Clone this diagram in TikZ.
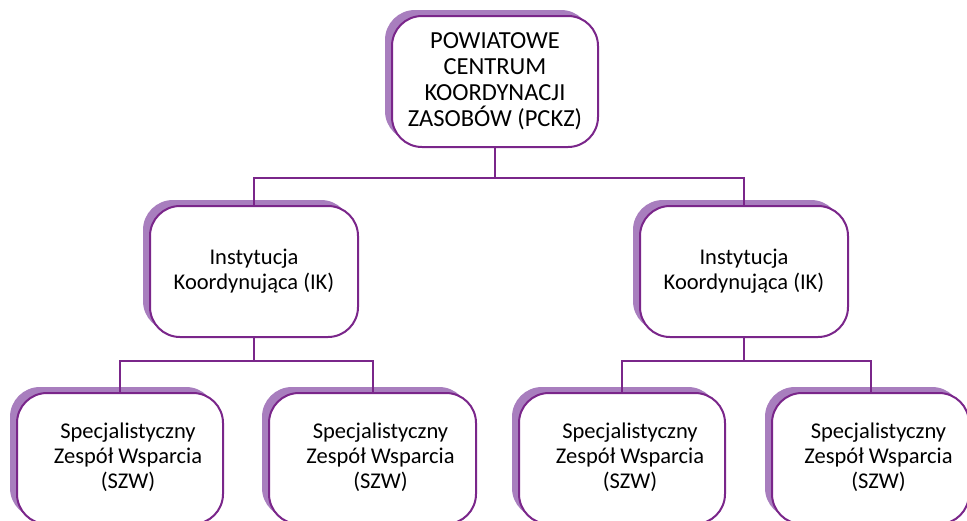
\documentclass[tikz,border=0pt]{standalone}
\usepackage{fontspec}
\setmainfont{Carlito}
\usetikzlibrary{positioning,shadows}
\definecolor{darkpurple}{RGB}{122,38,138}
\definecolor{lightpurple}{RGB}{168,126,190}
\newcommand{\szwtext}{\begin{tabular}{@{\hspace{16pt}}c@{}}Specjalistyczny\\Zespół Wsparcia\\(SZW)\end{tabular}}

\begin{document}
\begin{tikzpicture}[x=1pt, y=-1pt,
        node distance=42pt,
        box/.style={rectangle, draw=darkpurple, line width=2pt, fill=white, rounded corners=30pt, align=center, minimum width=206pt, minimum height=131pt, inner sep=0pt, font=\fontsize{22.5}{25}\selectfont, copy shadow={shadow xshift=-7pt, shadow yshift=6pt, fill=lightpurple, draw=none}},
        link/.style={darkpurple, line width=2pt}
    ]
    \useasboundingbox (0,0) rectangle (967,520);
    \clip (0,0) rectangle (967,520);
    \node[box, font=\fontsize{24.5}{26}\selectfont] (pckz) at (495,81.5) {POWIATOWE\\CENTRUM\\KOORDYNACJI\\ZASOBÓW (PCKZ)};
    \node[box, minimum width=208pt] (ikl) at (254,271.5) {Instytucja\\Koordynująca (IK)};
    \node[box, minimum width=208pt] (ikr) at (744,271.5) {Instytucja\\Koordynująca (IK)};
    \node[box] (szw1) at (120,458.5) {\szwtext};
    \node[box, minimum width=207pt, right=44pt of szw1] (szw2) {\szwtext};
    \node[box, right=41pt of szw2] (szw3) {\szwtext};
    \node[box, minimum width=197pt, right=45pt of szw3] (szw4) {\szwtext};

    \draw[link] (pckz.south) -- ++(0,30) coordinate (bus);
    \draw[link] (ikl.north) |- (bus) -| (ikr.north);
    \draw[link] (ikl.south) -- ++(0,23) coordinate (busl);
    \draw[link] (szw1.north) |- (busl) -| (szw2.north);
    \draw[link] (ikr.south) -- ++(0,23) coordinate (busr);
    \draw[link] (szw3.north) |- (busr) -| (szw4.north);
\end{tikzpicture}
\end{document}
